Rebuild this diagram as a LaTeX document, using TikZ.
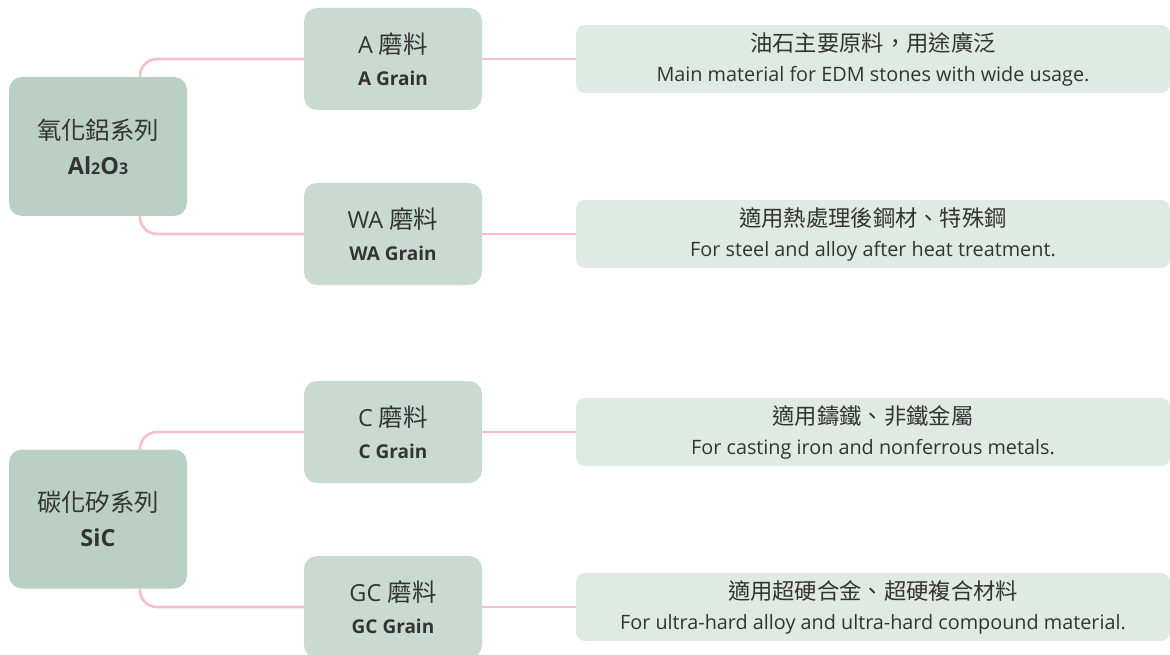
\documentclass[tikz,border=0pt]{standalone}
\usepackage{fontspec}
\setmainfont{Open Sans}
\newfontfamily\cjk{Noto Sans CJK TC}
\definecolor{rootfill}{HTML}{BBD0C4}
\definecolor{midfill}{HTML}{C9DBD1}
\definecolor{descfill}{HTML}{E0EAE4}
\definecolor{conncol}{HTML}{F7C0C6}
\definecolor{txt}{HTML}{333333}
\tikzset{
  rootbox/.style={rectangle, rounded corners=13pt, fill=rootfill, minimum width=178pt, minimum height=139pt, align=center, text=txt, inner sep=0pt, font=\fontsize{24}{35}\selectfont},
  midbox/.style={rectangle, rounded corners=13pt, fill=midfill, minimum width=178pt, minimum height=102pt, align=center, text=txt, inner sep=0pt, font=\fontsize{23}{32}\selectfont},
  descbox/.style={rectangle, rounded corners=9pt, fill=descfill, minimum width=594pt, minimum height=68pt, align=center, text=txt, inner sep=0pt, font=\fontsize{19.8}{30}\selectfont},
  conn/.style={draw=conncol, line width=2.6pt, rounded corners=17pt},
}
\newcommand{\twolines}[2]{{\fontsize{23.5}{32}\selectfont #1}\\{\fontsize{19}{32}\selectfont\bfseries #2}}
\newcommand{\desclines}[2]{{\fontsize{22.3}{30}\selectfont\cjk #1}\\{\fontsize{19.8}{30}\selectfont #2}}
\begin{document}
\begin{tikzpicture}[x=1pt,y=-1pt]
\useasboundingbox (0,0) rectangle (1170,655);
% roots
\node[rootbox] (r1) at (98,146.5) {{\fontsize{24.4}{35}\selectfont\cjk 氧化鋁系列}\\{\fontsize{23.5}{35}\selectfont\bfseries Al{\fontsize{16}{16}\selectfont 2}O{\fontsize{16}{16}\selectfont 3}}};
\node[rootbox] (r2) at (98,519) {{\fontsize{24.4}{35}\selectfont\cjk 碳化矽系列}\\{\fontsize{23.5}{35}\selectfont\bfseries SiC}};
% middle
\node[midbox] (a) at (393,59) {\twolines{A {\fontsize{24.5}{32}\selectfont\cjk 磨料}}{A Grain}};
\node[midbox] (wa) at (393,234) {\twolines{WA {\fontsize{24.5}{32}\selectfont\cjk 磨料}}{WA Grain}};
\node[midbox] (c) at (393,432) {\twolines{C {\fontsize{24.5}{32}\selectfont\cjk 磨料}}{C Grain}};
\node[midbox] (gc) at (393,607) {\twolines{GC {\fontsize{24.5}{32}\selectfont\cjk 磨料}}{GC Grain}};
% descriptions
\node[descbox] (d1) at (873,59) {\desclines{油石主要原料，用途廣泛}{Main material for EDM stones with wide usage.}};
\node[descbox] (d2) at (873,234) {\desclines{適用熱處理後鋼材、特殊鋼}{For steel and alloy after heat treatment.}};
\node[descbox] (d3) at (873,432) {\desclines{適用鑄鐵、非鐵金屬}{For casting iron and nonferrous metals.}};
\node[descbox] (d4) at (873,607) {\desclines{適用超硬合金、超硬複合材料}{For ultra-hard alloy and ultra-hard compound material.}};
% connectors
\draw[conn] ([xshift=42pt]r1.north) |- (a.west);
\draw[conn] ([xshift=42pt]r1.south) |- (wa.west);
\draw[conn] ([xshift=42pt]r2.north) |- (c.west);
\draw[conn] ([xshift=42pt]r2.south) |- (gc.west);
\draw[conn] (a.east) -- (d1.west);
\draw[conn] (wa.east) -- (d2.west);
\draw[conn] (c.east) -- (d3.west);
\draw[conn] (gc.east) -- (d4.west);
\end{tikzpicture}
\end{document}
